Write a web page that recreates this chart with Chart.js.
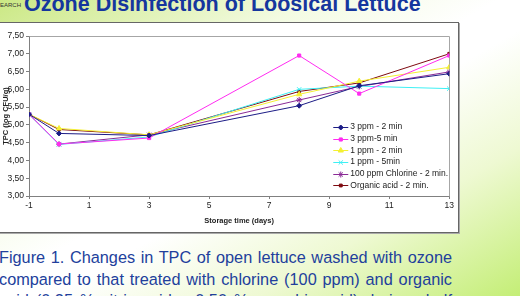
<!DOCTYPE html>
<html>
<head>
<meta charset="utf-8">
<script src="https://cdn.jsdelivr.net/npm/chart.js@4.4.1/dist/chart.umd.min.js"></script>
<style>
  html, body { margin: 0; padding: 0; }
  body {
    width: 520px; height: 296px; overflow: hidden; position: relative;
    font-family: Arial, "Liberation Sans", sans-serif;
    background: linear-gradient(to bottom right, #cbe884 0%, #f3fbe2 30%, #ffffff 48%, #ffffff 55%, #eef9d2 75%, #c4ee76 100%);
  }
  .slide-title {
    position: absolute; left: 24px; top: -7px; white-space: nowrap;
    font: bold 21.5px/22px Arial, "Liberation Sans", sans-serif; color: #15369e;
  }
  .tag {
    position: absolute; left: 0; top: 1px; font: 6px/8px Arial, "Liberation Sans", sans-serif; color: #333;
  }
  .box {
    position: absolute; left: -3px; top: 22px; width: 460px; height: 209px;
    background: #fff; border: 1px solid #666; box-shadow: 1px 1px 0 #aaa;
  }
  #chart { position: absolute; left: 0; top: 23px; }
  .caption { position: absolute; left: -1px; top: 247px; width: 453px; color: #223f9c; }
  .caption div {
    height: 21.6px; font: 16.3px/21.6px Arial, "Liberation Sans", sans-serif;
    text-align: justify; text-align-last: justify; white-space: nowrap;
  }
</style>
</head>
<body>
<div class="tag">EARCH</div>
<div class="slide-title">Ozone Disinfection of Loosical Lettuce</div>
<div class="box"></div>
<canvas id="chart" width="456" height="209"></canvas>
<div class="caption">
  <div>Figure 1. Changes in TPC of open lettuce washed with ozone</div>
  <div>compared to that treated with chlorine (100 ppm) and organic</div>
  <div>acid (0.25 % citric acid + 0.50 % ascorbic acid) during shelf</div>
</div>
<script>
const days = [-1, 0, 3, 8, 10, 13];
const xTicks = [-1, 1, 3, 5, 7, 9, 11, 13];
const yTicks = [3, 3.5, 4, 4.5, 5, 5.5, 6, 6.5, 7, 7.5];

const ozone3ppm2min = [5.30, 4.76, 4.70, 5.54, 6.10, 6.44];
const ozone3ppm5min = [5.30, 4.46, 4.63, 6.95, 5.88, 6.95];
const ozone1ppm2min = [5.30, 4.90, 4.72, 5.86, 6.23, 6.62];
const ozone1ppm5min = [5.30, 4.45, 4.66, 6.00, 6.09, 6.02];
const chlorine2min = [5.30, 4.46, 4.72, 5.70, 6.08, 6.49];
const organicAcid2min = [5.30, 4.87, 4.72, 5.94, 6.18, 7.00];

const seriesLabels = [
  "3 ppm - 2 min",
  "3 ppm-5 min",
  "1 ppm - 2 min",
  "1 ppm - 5min",
  "100 ppm Chlorine - 2 min.",
  "Organic acid - 2 min.",
];

const FONT = 'Arial, "Liberation Sans", sans-serif';
const toPoints = (vals) => vals.map((y, i) => ({ x: days[i], y }));

function makeSet(label, vals, color, pointStyle, radius) {
  return {
    label,
    data: toPoints(vals),
    borderColor: color,
    backgroundColor: color,
    pointBackgroundColor: color,
    pointBorderColor: color,
    borderWidth: 1,
    pointStyle,
    pointRadius: radius,
    pointBorderWidth: 1,
    fill: false,
    tension: 0,
  };
}

// plot area border (top + right), like the excel chart
const plotFrame = {
  id: "plotFrame",
  beforeDatasetsDraw(chart) {
    const { ctx, chartArea: a } = chart;
    ctx.save();
    ctx.strokeStyle = "#a6a6a6";
    ctx.lineWidth = 1;
    ctx.beginPath();
    ctx.moveTo(Math.round(a.left) + 0.5, Math.round(a.top) + 0.5);
    ctx.lineTo(Math.round(a.right) + 0.5, Math.round(a.top) + 0.5);
    ctx.lineTo(Math.round(a.right) + 0.5, Math.round(a.bottom) + 0.5);
    ctx.stroke();
    ctx.restore();
  },
};

// legend sits inside the plot, lower right
const insideLegend = {
  id: "insideLegend",
  afterDraw(chart) {
    const { ctx, chartArea: a } = chart;
    const x0 = a.left + (a.right - a.left) * 0.724;
    const y0 = a.top + (a.bottom - a.top) * 0.568;
    const step = 11.7;
    ctx.save();
    ctx.font = "8.5px " + FONT;
    ctx.textBaseline = "middle";
    chart.data.datasets.forEach((ds, i) => {
      const y = y0 + i * step;
      ctx.strokeStyle = ds.borderColor;
      ctx.fillStyle = ds.borderColor;
      ctx.lineWidth = 1;
      ctx.beginPath();
      ctx.moveTo(x0, Math.round(y) + 0.5);
      ctx.lineTo(x0 + 15, Math.round(y) + 0.5);
      ctx.stroke();
      if (Chart.helpers && Chart.helpers.drawPoint) {
        Chart.helpers.drawPoint(ctx, { pointStyle: ds.pointStyle, radius: ds.pointRadius, rotation: 0, borderWidth: 1 }, x0 + 7.5, Math.round(y) + 0.5);
      }
      ctx.fillStyle = "#222";
      ctx.fillText(ds.label, x0 + 17, y);
    });
    ctx.restore();
  },
};

const tickFont = { family: FONT, size: 8.5 };
const titleFont = { family: FONT, size: 7.5, weight: "bold" };

new Chart(document.getElementById("chart").getContext("2d"), {
  type: "line",
  data: {
    datasets: [
      makeSet(seriesLabels[0], ozone3ppm2min, "#1c1c86", "rectRot", 2.5),
      makeSet(seriesLabels[1], ozone3ppm5min, "#ff2cf0", "rect", 2.2),
      makeSet(seriesLabels[2], ozone1ppm2min, "#f4f032", "triangle", 3),
      makeSet(seriesLabels[3], ozone1ppm5min, "#3ef0f4", "crossRot", 3),
      makeSet(seriesLabels[4], chlorine2min, "#8a2a96", "star", 3),
      makeSet(seriesLabels[5], organicAcid2min, "#7e0a10", "rect", 2),
    ],
  },
  options: {
    responsive: false,
    animation: false,
    devicePixelRatio: 1,
    layout: { padding: { top: 13, right: 4, left: 0, bottom: 5 } },
    plugins: { legend: { display: false }, tooltip: { enabled: false } },
    scales: {
      x: {
        type: "linear",
        min: -1,
        max: 13,
        afterBuildTicks: (s) => { s.ticks = xTicks.map((v) => ({ value: v })); },
        afterFit: (s) => { s.height = 31; },
        ticks: { font: tickFont, color: "#222", maxRotation: 0, autoSkip: false, padding: 2 },
        grid: { drawOnChartArea: false, drawTicks: true, tickLength: 3, color: "#808080" },
        border: { color: "#808080" },
        title: { display: true, text: "Storage time (days)", font: titleFont, color: "#222", padding: { top: 2, bottom: 2 } },
      },
      y: {
        min: 3,
        max: 7.5,
        afterBuildTicks: (s) => { s.ticks = yTicks.map((v) => ({ value: v })); },
        afterFit: (s) => { s.width = 29; },
        ticks: {
          font: tickFont,
          color: "#222",
          padding: 2,
          callback: (v) => Number(v).toFixed(2).replace(".", ","),
        },
        grid: { drawOnChartArea: false, drawTicks: true, tickLength: 3, color: "#808080" },
        border: { color: "#808080" },
        title: { display: true, text: "TPC (log CFU/g)", font: titleFont, color: "#222", padding: { top: 1, bottom: 0 } },
      },
    },
  },
  plugins: [plotFrame, insideLegend],
});
</script>
</body>
</html>
